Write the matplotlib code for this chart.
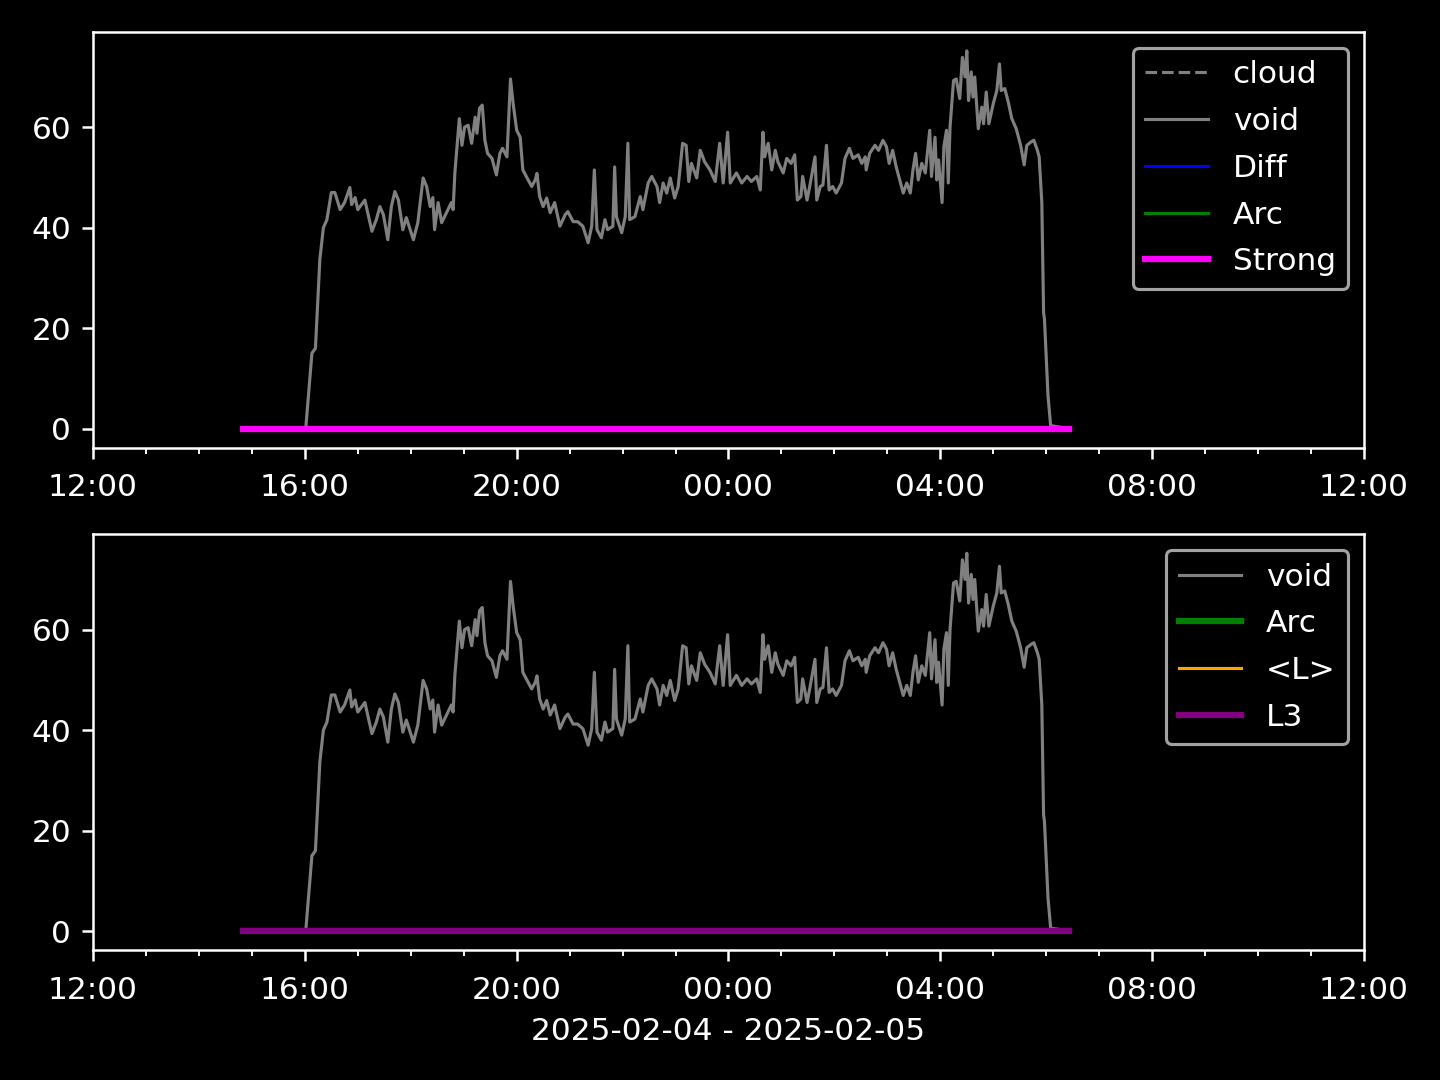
import datetime as dt
import matplotlib
matplotlib.use("Agg")
import matplotlib.pyplot as plt
import matplotlib.dates as mdates

# void signal (clock time, value)
void_times = [
    "14:50", "16:01", "16:08", "16:12", "16:17", "16:21", "16:25", "16:30", "16:34", "16:40",
    "16:45", "16:51", "16:53", "16:57", "17:00", "17:08", "17:16", "17:21", "17:25", "17:29",
    "17:34", "17:38", "17:42", "17:46", "17:51", "17:55", "18:03", "18:08", "18:14", "18:18",
    "18:22", "18:25", "18:27", "18:31", "18:35", "18:41", "18:46", "18:48", "18:50", "18:55",
    "18:58", "19:01", "19:05", "19:09", "19:13", "19:15", "19:18", "19:21", "19:24", "19:27",
    "19:32", "19:37", "19:41", "19:44", "19:49", "19:53", "19:56", "20:00", "20:04", "20:07",
    "20:13", "20:17", "20:21", "20:23", "20:26", "20:30", "20:34", "20:38", "20:43", "20:49",
    "20:55", "20:58", "21:04", "21:09", "21:15", "21:21", "21:25", "21:28", "21:31", "21:36",
    "21:40", "21:43", "21:49", "21:51", "21:53", "21:59", "22:03", "22:06", "22:08", "22:14",
    "22:20", "22:23", "22:29", "22:33", "22:39", "22:42", "22:46", "22:50", "22:54", "22:59",
    "23:03", "23:08", "23:12", "23:15", "23:18", "23:24", "23:28", "23:33", "23:39", "23:45",
    "23:50", "23:54", "23:59", "00:02", "00:09", "00:15", "00:21", "00:26", "00:32", "00:36",
    "00:39", "00:41", "00:45", "00:49", "00:53", "00:56", "01:02", "01:06", "01:11", "01:15",
    "01:18", "01:22", "01:24", "01:29", "01:32", "01:38", "01:40", "01:44", "01:47", "01:51",
    "01:54", "01:58", "02:02", "02:08", "02:12", "02:17", "02:21", "02:27", "02:31", "02:35",
    "02:36", "02:40", "02:46", "02:50", "02:55", "02:59", "03:02", "03:06", "03:10", "03:14",
    "03:18", "03:22", "03:26", "03:29", "03:32", "03:35", "03:39", "03:43", "03:48", "03:50",
    "03:54", "03:56", "03:58", "04:02", "04:04", "04:07", "04:09", "04:11", "04:15", "04:18",
    "04:22", "04:25", "04:28", "04:30", "04:32", "04:35", "04:37", "04:39", "04:43", "04:47",
    "04:49", "04:52", "04:55", "05:00", "05:04", "05:07", "05:09", "05:13", "05:17", "05:21",
    "05:26", "05:31", "05:35", "05:38", "05:43", "05:46", "05:50", "05:52", "05:55", "05:57",
    "05:58", "06:02", "06:05", "06:26",
]
void_values = [
    0, 0, 15, 16, 33.7, 40, 41.6, 47, 47, 43.6,
    45, 48, 44.6, 46, 43.6, 45.5, 39.3, 41.6, 44.2, 42.6,
    37.6, 44.2, 47.2, 45.5, 39.6, 42, 37.6, 41, 49.9, 48.2,
    44.2, 46, 39.6, 45, 41, 43.2, 45, 43.6, 51, 61.7,
    56.4, 60, 60.4, 56.8, 62, 58.8, 63.8, 64.4, 57.4, 54.8,
    53.8, 50.5, 54.8, 55.8, 54.1, 69.6, 64.7, 59.4, 58, 51.5,
    49.5, 48.2, 49.5, 50.8, 46.2, 44.2, 45.9, 43, 45, 40.3,
    42.6, 43.2, 41.2, 41.2, 40.3, 37, 40.3, 51.5, 39.6, 38,
    41.6, 39.6, 40.3, 52.1, 42.2, 39, 42.2, 56.8, 41.6, 42.2,
    46.2, 43.6, 48.9, 50.2, 48.2, 45, 48.9, 46.9, 49.9, 45.9,
    48.2, 56.8, 56.4, 49.2, 52.8, 49.9, 55.4, 53.1, 51.5, 49.2,
    56.8, 48.9, 59, 48.9, 50.9, 48.9, 50.2, 49.2, 50.2, 47.5,
    59, 54.1, 56.8, 51.5, 55.4, 53.1, 50.9, 53.8, 52.8, 54.5,
    45.5, 46.2, 50.2, 45.5, 48.2, 54.1, 45.5, 48.2, 48.5, 56.4,
    47.5, 48.2, 46.9, 48.9, 53.8, 55.8, 53.8, 54.5, 52.8, 54.1,
    51.5, 54.8, 56.4, 55.4, 57.4, 56.1, 52.8, 55.4, 52.1, 49.5,
    46.9, 48.9, 46.9, 51.5, 54.8, 49.5, 52.8, 50.9, 59.4, 50.2,
    58, 49.5, 53.5, 45, 56.1, 59.4, 48.9, 60, 69.3, 69.6,
    65.7, 73.9, 70, 75.2, 65.3, 71, 66, 70, 59.7, 64,
    60.7, 67, 60.7, 64.7, 67.3, 72.6, 67.3, 67.7, 65, 61.7,
    59.7, 56.4, 52.5, 56.4, 57.1, 57.4, 55.4, 54.1, 45, 23.1,
    21.8, 6.6, 0.6, 0,
]

# flat series (all zero over the run)
flat_times = ["14:50", "06:26"]
flat_values = [0, 0]

day0 = dt.datetime(2025, 2, 4)


def to_dt(hhmm):
    h, m = map(int, hhmm.split(":"))
    d = day0 if h >= 12 else day0 + dt.timedelta(days=1)
    return d.replace(hour=h, minute=m)


vt = [to_dt(s) for s in void_times]
ft = [to_dt(s) for s in flat_times]

plt.style.use("dark_background")
fig, (ax1, ax2) = plt.subplots(2, 1, figsize=(6.4, 4.8), dpi=225)
fig.subplots_adjust(left=0.0646, right=0.9472, top=0.9704, bottom=0.1204, hspace=0.209)

ax1.plot(ft, flat_values, color="gray", ls="--", lw=1, label="cloud")
ax1.plot(vt, void_values, color="gray", lw=1, label="void")
ax1.plot(ft, flat_values, color="blue", lw=1, label="Diff")
ax1.plot(ft, flat_values, color="green", lw=1, label="Arc")
ax1.plot(ft, flat_values, color="magenta", lw=2, label="Strong")
ax1.legend(loc="upper right", labelspacing=0.57)

ax2.plot(vt, void_values, color="gray", lw=1, label="void")
ax2.plot(ft, flat_values, color="green", lw=2, label="Arc")
ax2.plot(ft, flat_values, color="orange", lw=1, label="<L>")
ax2.plot(ft, flat_values, color="purple", lw=2, label="L3")
ax2.legend(loc="upper right", labelspacing=0.57)
ax2.set_xlabel("2025-02-04 - 2025-02-05")

for ax in (ax1, ax2):
    ax.set_xlim(dt.datetime(2025, 2, 4, 12), dt.datetime(2025, 2, 5, 12))
    ax.xaxis.set_major_locator(mdates.HourLocator(byhour=range(0, 24, 4)))
    ax.xaxis.set_minor_locator(mdates.HourLocator())
    ax.xaxis.set_major_formatter(mdates.DateFormatter("%H:%M"))
    ax.tick_params(axis="x", which="major", pad=4.8)

plt.savefig("out.png")
